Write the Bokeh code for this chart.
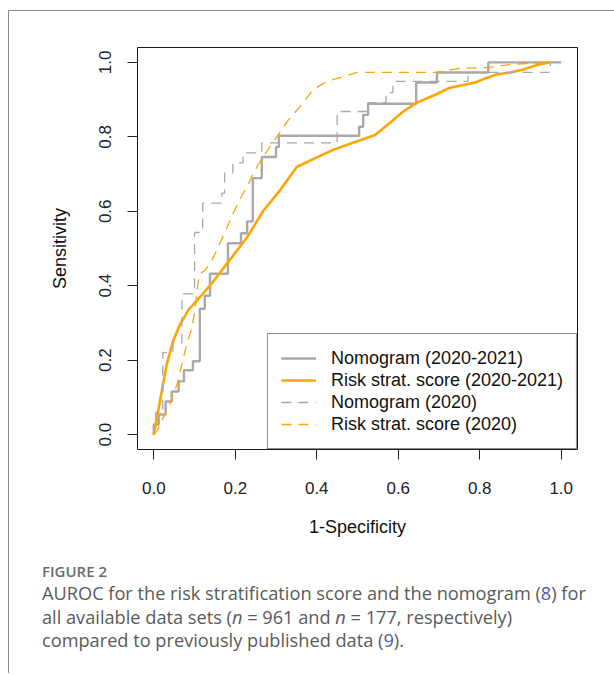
from bokeh.plotting import figure
from bokeh.models import Range1d, FixedTicker, NumeralTickFormatter, Legend, LegendItem, Div
from bokeh.layouts import column
from bokeh.embed import file_html
from bokeh.resources import INLINE

# ---- data ----
tick_values = [0.0, 0.2, 0.4, 0.6, 0.8, 1.0]

series_labels = ["Nomogram (2020-2021)", "Risk strat. score (2020-2021)",
                 "Nomogram (2020)", "Risk strat. score (2020)"]

# ROC step corners (1-specificity, sensitivity)
nomo_all_fpr = [0.0, 0.012, 0.029, 0.044, 0.061, 0.074, 0.096, 0.113, 0.125, 0.138,
                0.182, 0.214, 0.229, 0.243, 0.265, 0.300, 0.307, 0.504, 0.514, 0.526,
                0.644, 0.695, 0.821, 1.0]
nomo_all_tpr = [0.0, 0.027, 0.054, 0.089, 0.116, 0.143, 0.173, 0.197, 0.338, 0.373,
                0.432, 0.514, 0.541, 0.573, 0.689, 0.746, 0.773, 0.803, 0.827, 0.859,
                0.889, 0.946, 0.973, 1.0]

risk_all_fpr = [0.0, 0.005, 0.012, 0.020, 0.032, 0.047, 0.064, 0.085, 0.110, 0.145,
                0.180, 0.229, 0.268, 0.310, 0.351, 0.391, 0.440, 0.489, 0.543, 0.580,
                0.612, 0.646, 0.695, 0.727, 0.789, 0.818, 0.843, 0.875, 0.907, 0.941, 0.970]
risk_all_tpr = [0.0, 0.03, 0.07, 0.12, 0.19, 0.25, 0.295, 0.335, 0.365, 0.41,
                0.46, 0.53, 0.60, 0.657, 0.719, 0.740, 0.765, 0.784, 0.805, 0.838,
                0.868, 0.892, 0.915, 0.932, 0.946, 0.959, 0.968, 0.973, 0.981, 0.993, 1.0]

nomo_2020_fpr = [0.0, 0.005, 0.022, 0.047, 0.069, 0.10, 0.120, 0.167, 0.174, 0.194,
                 0.219, 0.265, 0.450, 0.526, 0.570, 0.587, 0.771, 0.973, 1.0]
nomo_2020_tpr = [0.0, 0.03, 0.06, 0.22, 0.246, 0.378, 0.543, 0.622, 0.649, 0.703,
                 0.730, 0.757, 0.784, 0.868, 0.892, 0.919, 0.949, 0.973, 1.0]

risk_2020_fpr = [0.0, 0.007, 0.022, 0.039, 0.057, 0.069, 0.081, 0.093, 0.101, 0.108,
                 0.113, 0.125, 0.138, 0.150, 0.165, 0.180, 0.195, 0.213, 0.230, 0.245,
                 0.262, 0.280, 0.302, 0.330, 0.359, 0.391, 0.425, 0.457, 0.499, 0.695,
                 0.752, 0.818, 0.882, 0.966]
risk_2020_tpr = [0.0, 0.008, 0.043, 0.081, 0.135, 0.189, 0.243, 0.286, 0.332, 0.405,
                 0.432, 0.441, 0.459, 0.485, 0.52, 0.557, 0.595, 0.635, 0.668, 0.703,
                 0.735, 0.765, 0.800, 0.845, 0.881, 0.927, 0.949, 0.959, 0.973, 0.973,
                 0.984, 0.986, 0.995, 1.0]


def staircase(fpr, tpr):
    xs, ys = [fpr[0]], [tpr[0]]
    for i in range(1, len(fpr)):
        xs += [fpr[i - 1], fpr[i]]
        ys += [tpr[i], tpr[i]]
    return xs, ys


GRAY = "#A9A9A9"
ORANGE = "#FFA500"
FRAME_GRAY = "#8a8a8a"
FONT = "Liberation Sans"

W, H = 605, 538
BL, BR, BT = 128, 37, 36
FH = 402
BB = H - BT - FH

p = figure(width=W, height=H, x_range=Range1d(-0.04, 1.04), y_range=Range1d(-0.04, 1.04),
           output_backend="svg", toolbar_location=None,
           min_border_left=BL, min_border_right=BR, min_border_top=BT, min_border_bottom=BB,
           background_fill_color="white", border_fill_color="white")
p.outline_line_color = "#1a1a1a"
p.outline_line_width = 1
p.xgrid.visible = False
p.ygrid.visible = False

p.axis.ticker = FixedTicker(ticks=tick_values)
p.axis.formatter = NumeralTickFormatter(format="0.0")
p.axis.axis_line_color = None
p.axis.major_tick_in = 0
p.axis.major_tick_out = 10
p.axis.major_tick_line_color = "#222222"
p.axis.minor_tick_line_color = None
p.axis.major_label_text_font = FONT
p.axis.major_label_text_font_size = "17px"
p.axis.major_label_text_color = "#222222"
p.axis.axis_label_text_font = FONT
p.axis.axis_label_text_font_size = "18px"
p.axis.axis_label_text_font_style = "normal"
p.axis.axis_label_text_color = "#111111"
p.xaxis.axis_label = "1-Specificity"
p.yaxis.axis_label = "Sensitivity"
p.yaxis.major_label_orientation = "vertical"
p.xaxis.major_label_standoff = 22
p.xaxis.axis_label_standoff = 20
p.yaxis.major_label_standoff = 16
p.yaxis.axis_label_standoff = 27

x1, y1 = staircase(nomo_all_fpr, nomo_all_tpr)
r1 = p.line(x1, y1, line_color=GRAY, line_width=2.4)
r2 = p.line(risk_all_fpr, risk_all_tpr, line_color=ORANGE, line_width=2.6)
x3, y3 = staircase(nomo_2020_fpr, nomo_2020_tpr)
r3 = p.line(x3, y3, line_color=GRAY, line_width=1.3, line_dash="10 7")
r4 = p.line(risk_2020_fpr, risk_2020_tpr, line_color=ORANGE, line_width=1.3, line_dash="10 7")

legend = Legend(items=[LegendItem(label=lab, renderers=[r]) for lab, r in
                       zip(series_labels, [r1, r2, r3, r4])],
                location="bottom_right", margin=0, padding=13, spacing=0,
                label_height=22, glyph_height=22, glyph_width=35, label_standoff=15,
                border_line_color="#1a1a1a", border_line_width=1,
                label_text_font=FONT, label_text_font_size="18px",
                label_text_color="#111111", background_fill_color="white",
                background_fill_alpha=1.0)
p.add_layout(legend)

ref = 'style="color:#4f5bb5"'
caption = (
    '<div style="font-family:\'Open Sans\'; padding-left:33px; padding-top:13px;">'
    '<div style="font-size:15px; line-height:18px; color:#6b6b6b; font-weight:600;">FIGURE 2</div>'
    '<div style="font-size:18.2px; line-height:23.5px; color:#5a5a5a; margin-top:2px; white-space:nowrap;">'
    f'AUROC for the risk stratification score and the nomogram (<span {ref}>8</span>) for<br>'
    'all available data sets (<i>n</i> = 961 and <i>n</i> = 177, respectively)<br>'
    f'compared to previously published data (<span {ref}>9</span>).'
    '</div></div>'
)
div = Div(text=caption, width=W, height=124, margin=0)

layout = column(p, div, spacing=0,
                styles={"margin-left": "8px", "margin-top": "10px",
                        "border-left": f"1px solid {FRAME_GRAY}",
                        "border-top": f"1px solid {FRAME_GRAY}"})

open("out.html", "w").write(file_html(layout, INLINE))
